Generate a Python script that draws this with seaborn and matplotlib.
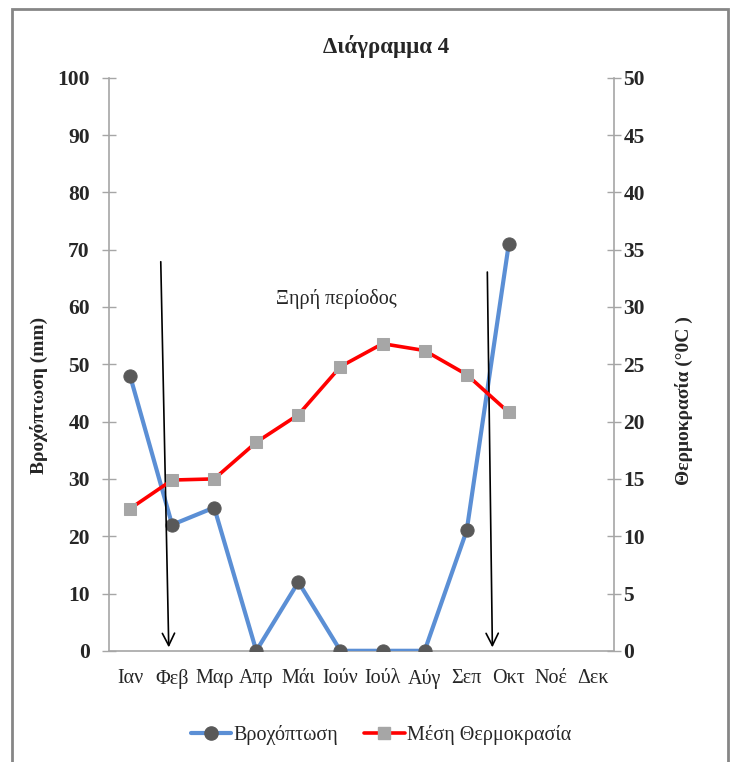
import numpy as np
import pandas as pd
import seaborn as sns
import matplotlib
matplotlib.use('Agg')
from matplotlib import pyplot as plt
from matplotlib.patches import Rectangle
from matplotlib.lines import Line2D

# data
months = ['Ιαν', 'Φεβ', 'Μαρ', 'Απρ', 'Μάι', 'Ιούν', 'Ιούλ', 'Αύγ', 'Σεπ', 'Οκτ', 'Νοέ', 'Δεκ']
rain = [48, 22, 25, 0, 12, 0, 0, 0, 21, 71]
temp = [12.4, 14.9, 15.0, 18.2, 20.6, 24.8, 26.8, 26.2, 24.1, 20.8]
rain_ticks = [0, 10, 20, 30, 40, 50, 60, 70, 80, 90, 100]
temp_ticks = [0, 5, 10, 15, 20, 25, 30, 35, 40, 45, 50]

# arrows marking the dry period (start/end in month index, mm)
arrow_starts = [(0.73, 67.9), (8.49, 66.1)]
arrow_ends = [(0.92, 0.6), (8.61, 0.6)]
dry_label = 'Ξηρή περίοδος'
dry_pos = (4.91, 61.4)

df_r = pd.DataFrame({'x': range(len(rain)), 'v': rain})
df_t = pd.DataFrame({'x': range(len(temp)), 'v': temp})

sns.set_style('white')
plt.rcParams['font.family'] = ['Liberation Serif', 'DejaVu Serif']

fig = plt.figure(figsize=(7.31, 7.62), dpi=100)
ax = fig.add_axes([109/731, 1-650.8/762, (614-109)/731, (650.8-77.8)/762])
ax2 = ax.twinx()

blue = '#5B8FD5'
axcol = '#A6A6A6'

sns.lineplot(data=df_r, x='x', y='v', ax=ax, color=blue, lw=3, marker='o',
             markersize=9.5, markerfacecolor='#595959', markeredgecolor='#595959', zorder=3)
sns.lineplot(data=df_t, x='x', y='v', ax=ax2, color='#FF0000', lw=2.6, marker='s',
             markersize=8.5, markerfacecolor='#A6A6A6', markeredgecolor='#A6A6A6')

ax.set_xlim(-0.5, 11.5)
ax.set_ylim(0, 100)
ax2.set_ylim(0, 50)
ax.set_yticks(rain_ticks)
ax2.set_yticks(temp_ticks)
ax.set_yticklabels([str(t) for t in rain_ticks], fontweight='bold', fontsize=15.5)
ax2.set_yticklabels([str(t) for t in temp_ticks], fontweight='bold', fontsize=15.5)

ax.set_xticks(np.arange(-0.5, 12, 1))
ax.set_xticklabels([])
ax.set_xticks(np.arange(12), minor=True)
ax.set_xticklabels(months, minor=True, fontsize=14.5)
ax.tick_params(axis='x', which='major', length=5.8, color=axcol, direction='out', width=1)
ax.tick_params(axis='x', which='minor', length=0, pad=13)
ax.tick_params(axis='y', length=9.6, color=axcol, direction='inout', width=1, pad=9)
ax2.tick_params(axis='y', length=9.6, color=axcol, direction='inout', width=1, pad=2)

for a in (ax, ax2):
    a.set_xlabel('')
    a.grid(False)
    for s in a.spines.values():
        s.set_visible(False)
ax.spines['left'].set_visible(True)
ax.spines['bottom'].set_visible(True)
ax2.spines['right'].set_visible(True)
for s in (ax.spines['left'], ax.spines['bottom'], ax2.spines['right']):
    s.set_color(axcol)
    s.set_linewidth(1.2)

ax.set_ylabel('Βροχόπτωση (mm)', fontweight='bold', fontsize=14)
ax2.set_ylabel('Θερμοκρασία (°0C )', fontweight='bold', fontsize=14, rotation=90)
ax.yaxis.set_label_coords((48-109)/505, (650.8-395)/573)
ax2.yaxis.set_label_coords((675-109)/505, (650.8-401)/573)

for s0, s1 in zip(arrow_starts, arrow_ends):
    ax.annotate('', xy=s1, xytext=s0,
                arrowprops=dict(arrowstyle='->', color='black', lw=1.2,
                                mutation_scale=22, shrinkA=0, shrinkB=0), zorder=6)
ax.text(dry_pos[0], dry_pos[1], dry_label, ha='center', va='center', fontsize=14.5)

fig.text(386/731, 1-47/762, 'Διάγραμμα 4', ha='center', va='center',
         fontsize=16.5, fontweight='bold')

handles = [Line2D([], [], color=blue, lw=3, marker='o', markersize=9.5,
                  markerfacecolor='#595959', markeredgecolor='#595959'),
           Line2D([], [], color='#FF0000', lw=2.6, marker='s', markersize=8.5,
                  markerfacecolor='#A6A6A6', markeredgecolor='#A6A6A6')]
fig.legend(handles, ['Βροχόπτωση', 'Μέση Θερμοκρασία'], loc='center',
           bbox_to_anchor=(381/731, 1-735/762), ncol=2, frameon=False,
           fontsize=14.5, handlelength=2.0, handletextpad=0.1, columnspacing=1.3)

fig.patches.append(Rectangle((12/731, -0.01), (728-12)/731, 1-9/762+0.01,
                             transform=fig.transFigure, fill=False,
                             edgecolor='#868686', lw=2))

fig.savefig('out.png', dpi=100)
